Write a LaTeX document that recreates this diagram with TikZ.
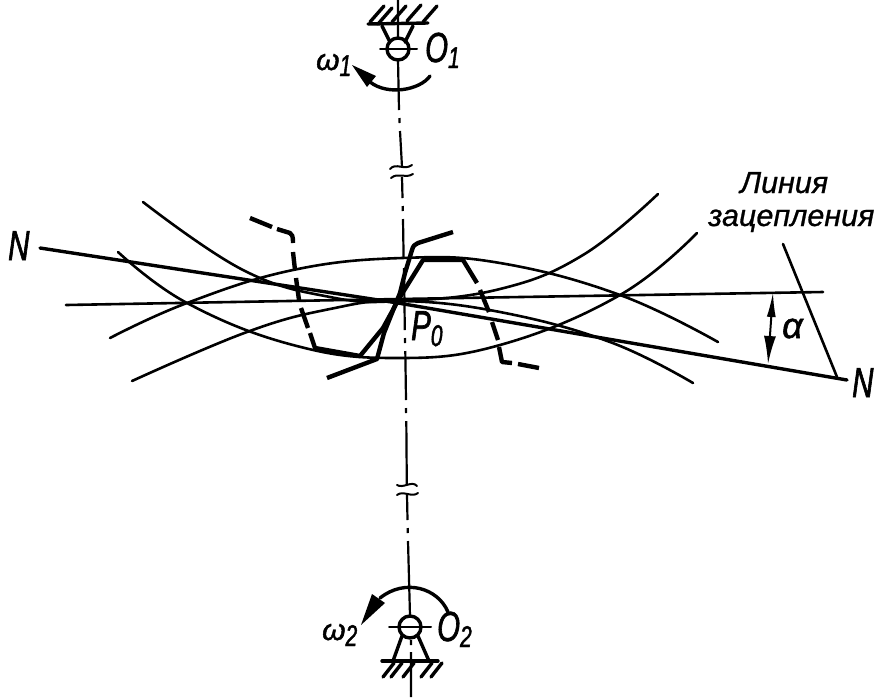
\documentclass[tikz,border=0pt]{standalone}
\usepackage{fontspec}
\setmainfont{Liberation Sans}[FakeBold=1]
\newfontfamily\narrowface{Liberation Sans}[FakeStretch=0.7,FakeBold=1.5,ItalicFeatures={FakeStretch=0.7,FakeBold=1.5}]
\newfontfamily\wideface{Liberation Sans}[ItalicFeatures={FakeBold=1.5}]
\newfontfamily\wordface{Liberation Sans}[ItalicFeatures={FakeBold=0.8}]
\usetikzlibrary{arrows.meta}
\tikzset{
  thin line/.style={line width=2pt,line cap=round,line join=round},
  arc line/.style={line width=2.6pt,line cap=round,line join=round},
  heavy line/.style={line width=3.4pt,line cap=round,line join=round},
  tooth/.style={line width=4.4pt,line cap=butt,line join=round},
  axis part/.style={line width=2.2pt},
  lab/.style={inner sep=0pt,anchor=base west,font=\narrowface\itshape\fontsize{42}{42}\selectfont},
  greek/.style={inner sep=0pt,anchor=base west,font=\wideface\itshape\fontsize{36}{36}\selectfont},
  omega/.style={inner sep=0pt,anchor=base west,font=\wideface\itshape\fontsize{30}{30}\selectfont},
  word/.style={inner sep=0pt,anchor=base west,font=\wordface\itshape\fontsize{30.5}{30.5}\selectfont},
}
\newcommand{\lowsub}[1]{\raisebox{-6pt}{\narrowface\itshape\fontsize{30}{30}\selectfont #1}}
\begin{document}
\begin{tikzpicture}[x=1pt,y=-1pt]
\useasboundingbox (0,0) rectangle (896,697);
% axis
\draw[axis part] (398,0) -- (398,38) (398,60) -- (399,110) (399.5,118) -- (399.6,123) (400,131) -- (402,167);
\draw[axis part] (402,177) -- (402.5,198) (402.7,206) -- (402.8,211) (403,219) -- (403.6,258) (404,268) -- (404.1,273) (404.2,281) -- (404.8,330);
\draw[axis part] (405,338) -- (405.1,343) (405.3,351) -- (406,400) (406,408) -- (406.1,413) (406.3,421) -- (406.8,484);
\draw[axis part] (407,495) -- (407.5,520) (407.7,528) -- (407.8,533) (408,541) -- (410,616) (411,640) -- (411,645) (411,652) -- (411,697);
% breaks
\draw[thin line] (390,169) .. controls (396,162) and (404,171) .. (412,165);
\draw[thin line] (391,178) .. controls (398,172) and (405,179) .. (413,174);
\draw[thin line] (397,485) .. controls (403,489) and (412,480) .. (417,486);
\draw[thin line] (397,495) .. controls (403,490) and (412,498) .. (418,493);
% upper support
\draw[heavy line] (368,24) -- (428,23);
\draw[heavy line] (382,26) -- (390,42) (413,26) -- (405,42);
\foreach \a/\b in {370/8,378/10,392/8,407/7,423/8}{
  \draw[heavy line] (\a,\b+14) -- ++(14,-16);
}
\draw[heavy line] (398,49) circle[radius=11];
\draw[thin line] (380,49) -- (417,49);
% lower support
\draw[heavy line] (382,661) -- (438,661);
\draw[heavy line] (402,636) -- (393,661) (418,636) -- (429,661);
\foreach \a in {383,391,403,421,431}{
  \draw[heavy line] (\a,677) -- ++(11,-14);
}
\draw[heavy line] (410,627) circle[radius=11];
\draw[thin line] (389,627) -- (431,627);
% rotation arcs
\draw[heavy line] (430,76) .. controls (420,90) and (388,96) .. (370,82);
\fill (352,65) -- (376,76) -- (367,87) -- cycle;
\draw[heavy line] (448,612) .. controls (438,588) and (405,578) .. (380,598);
\fill (361,625) -- (372,594) -- (385,603) -- cycle;
% wheel curves
\draw[arc line] plot[smooth,tension=0.7] coordinates {(143,202) (243,270) (330,297) (400,301) (500,289) (583,255) (658,194)};
\draw[arc line] plot[smooth,tension=0.7] coordinates {(118,252) (187,303) (293,345) (395,358) (500,345) (620,295) (697,233)};
\draw[arc line] plot[smooth,tension=0.7] coordinates {(110,338) (187,303) (293,270) (402,258) (500,263) (620,295) (718,342)};
\draw[arc line] plot[smooth,tension=0.7] coordinates {(132,381) (247,332) (330,309) (400,301) (500,312) (610,342) (693,383)};
% reference lines
\draw[arc line] (66,305) -- (400,299) -- (823,292);
\draw[heavy line] (40,248) -- (398,303) -- (847,380);
\draw[arc line] (783,244) -- (837,377);
% angle arrow
\coordinate (angA) at (773,292);
\coordinate (angB) at (768,364);
\draw[line width=2pt,{Latex[length=25pt,width=9pt]}-{Latex[length=28pt,width=12pt]}] (angA) -- (angB);
% dashed tooth profile
\draw[tooth] (250,218) -- (272,227);
\draw[tooth] (277,229) -- (290,233) .. controls (292,234) and (293,236) .. (293,243);
\draw[tooth] (293,252) -- (295,270);
\draw[tooth] (296,278) -- (299,300);
\draw[tooth] (301,308) -- (308,328);
\draw[tooth] (310,333) -- (315,348) -- (360,356) -- (383,328) -- (400,297) -- (423,260) -- (463,260) -- (477,283);
\draw[tooth] (480,290) -- (489,312);
\draw[tooth] (492,322) -- (498,340);
\draw[tooth] (499,347) -- (502,362) -- (512,363);
\draw[tooth] (518,364) -- (539,368);
% second tooth
\draw[tooth] (327,378) -- (377,359) -- (384,333) -- (400,293) -- (405,273) -- (412,250) .. controls (413,246) and (415,244) .. (418,243) -- (453,232);
% labels
\node[lab] (o1) at (425,62) {O\lowsub{1}};
\node[lab] (o2) at (437,641) {O\lowsub{2}};
\node[lab] (p0) at (411,340) {P\lowsub{0}};
\node[omega] (w1) at (316,70) {ω\lowsub{1}};
\node[omega] (w2) at (322,640) {ω\lowsub{2}};
\node[lab] (nl) at (8,260) {N};
\node[lab] (nr) at (852,397) {N};
\node[greek] (al) at (782,338) {α};
\node[word] (w3) at (740,193) {Линия};
\node[word] (w4) at (708,226) {зацепления};
\end{tikzpicture}
\end{document}
